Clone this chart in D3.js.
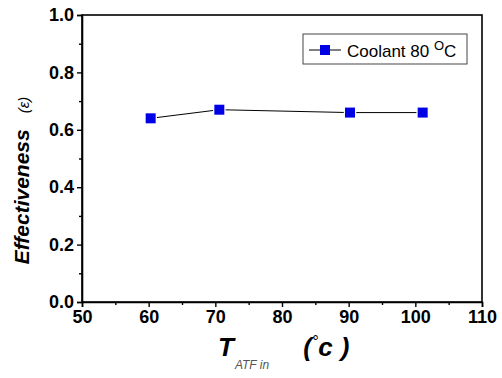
<!DOCTYPE html>
<html>
<head>
<meta charset="utf-8">
<script src="https://cdn.jsdelivr.net/npm/d3@7"></script>
<style>
  body { margin: 0; background: #fff; }
  svg { display: block; font-family: "Liberation Sans", Arial, sans-serif; }
</style>
</head>
<body>
<div id="chart"></div>
<script>
// data
const tempIn = [60.3, 70.6, 90.2, 101.1];
const effectiveness = [0.64, 0.67, 0.66, 0.66];
const xTicks = [50, 60, 70, 80, 90, 100, 110];
const yTicks = [0.0, 0.2, 0.4, 0.6, 0.8, 1.0];
const seriesName = "Coolant 80 ";

const width = 502, height = 378;
const margin = { left: 82, top: 15, right: 20, bottom: 76 };

const svg = d3.select("#chart").append("svg")
    .attr("width", width)
    .attr("height", height);

const x = d3.scaleLinear().domain([50, 110]).range([margin.left, width - margin.right]);
const y = d3.scaleLinear().domain([0, 1]).range([height - margin.bottom, margin.top]);

// frame
svg.append("rect")
    .attr("x", x(50)).attr("y", y(1))
    .attr("width", x(110) - x(50)).attr("height", y(0) - y(1))
    .attr("fill", "none").attr("stroke", "#000").attr("stroke-width", 1.6);

// x axis
const xAxis = svg.append("g").attr("transform", `translate(0,${y(0)})`)
    .call(d3.axisBottom(x).tickValues(xTicks).tickSize(5).tickPadding(3).tickFormat(d3.format("d")));
svg.append("g").attr("transform", `translate(0,${y(0)})`)
    .call(d3.axisBottom(x).tickValues(d3.range(55, 110, 10)).tickSize(3).tickFormat(""))
    .call(g => g.select(".domain").remove());

// y axis
const yAxis = svg.append("g").attr("transform", `translate(${x(50)},0)`)
    .call(d3.axisLeft(y).tickValues(yTicks).tickSize(5).tickPadding(3).tickFormat(d3.format(".1f")));
svg.append("g").attr("transform", `translate(${x(50)},0)`)
    .call(d3.axisLeft(y).tickValues(d3.range(0.1, 1, 0.2)).tickSize(3).tickFormat(""))
    .call(g => g.select(".domain").remove());

svg.selectAll(".tick line").attr("stroke-width", 1.4);
svg.selectAll(".domain").attr("stroke-width", 1.6);
[xAxis, yAxis].forEach(g => g.selectAll("text")
    .attr("font-size", 18).attr("font-weight", "bold").attr("fill", "#000"));

// series line + markers
const pts = tempIn.map((t, i) => [t, effectiveness[i]]);
svg.append("path")
    .datum(pts)
    .attr("fill", "none").attr("stroke", "#000").attr("stroke-width", 1)
    .attr("d", d3.line().x(d => x(d[0])).y(d => y(d[1])));

svg.selectAll("rect.pt")
    .data(pts)
    .join("rect")
    .classed("pt", true)
    .attr("x", d => x(d[0]) - 5).attr("y", d => y(d[1]) - 5)
    .attr("width", 10).attr("height", 10)
    .attr("fill", "#0000e6")
    .attr("stroke", "#fff").attr("stroke-width", 2.5)
    .attr("paint-order", "stroke");

// legend
const lg = svg.append("g").attr("transform", "translate(303,34)");
lg.append("rect").attr("width", 164).attr("height", 30)
    .attr("fill", "#fff").attr("stroke", "#444").attr("stroke-width", 1);
lg.append("line").attr("x1", 6).attr("x2", 38).attr("y1", 16).attr("y2", 16)
    .attr("stroke", "#000").attr("stroke-width", 1);
lg.append("rect").attr("x", 17).attr("y", 11).attr("width", 10).attr("height", 10)
    .attr("fill", "#0000e6");
const lt = lg.append("text").attr("x", 44).attr("y", 23)
    .attr("font-size", 17).attr("fill", "#000");
lt.append("tspan").text(seriesName);
lt.append("tspan").attr("font-size", 13).attr("dy", -7).text("O");
lt.append("tspan").attr("dy", 7).text("C");

// y title
const yt = svg.append("text")
    .attr("transform", `translate(29,${(y(0) + y(1)) / 2 + 22}) rotate(-90)`)
    .attr("text-anchor", "middle")
    .attr("fill", "#000");
yt.append("tspan").attr("font-size", 21).attr("font-style", "italic").attr("font-weight", "bold")
    .text("Effectiveness");
yt.append("tspan").attr("font-size", 15).attr("font-style", "italic").attr("dx", 16).text("(ε)");

// x title
const xt = svg.append("text").attr("x", 218).attr("y", 356).attr("fill", "#000");
xt.append("tspan").attr("font-size", 26).attr("font-style", "italic").attr("font-weight", "bold").text("T");
xt.append("tspan").attr("font-size", 12).attr("font-style", "italic").attr("fill", "#555")
    .attr("dy", 13).attr("dx", 1).text("ATF in");
xt.append("tspan").attr("font-size", 26).attr("font-style", "italic").attr("font-weight", "bold")
    .attr("dy", -13).attr("dx", 34).text("(");
xt.append("tspan").attr("font-size", 16).attr("font-style", "italic")
    .attr("dy", -9).text("°");
xt.append("tspan").attr("font-size", 26).attr("font-style", "italic").attr("font-weight", "bold")
    .attr("dy", 9).text("c");
xt.append("tspan").attr("font-size", 26).attr("font-style", "italic").attr("font-weight", "bold")
    .attr("dx", 8).text(")");
</script>
</body>
</html>
